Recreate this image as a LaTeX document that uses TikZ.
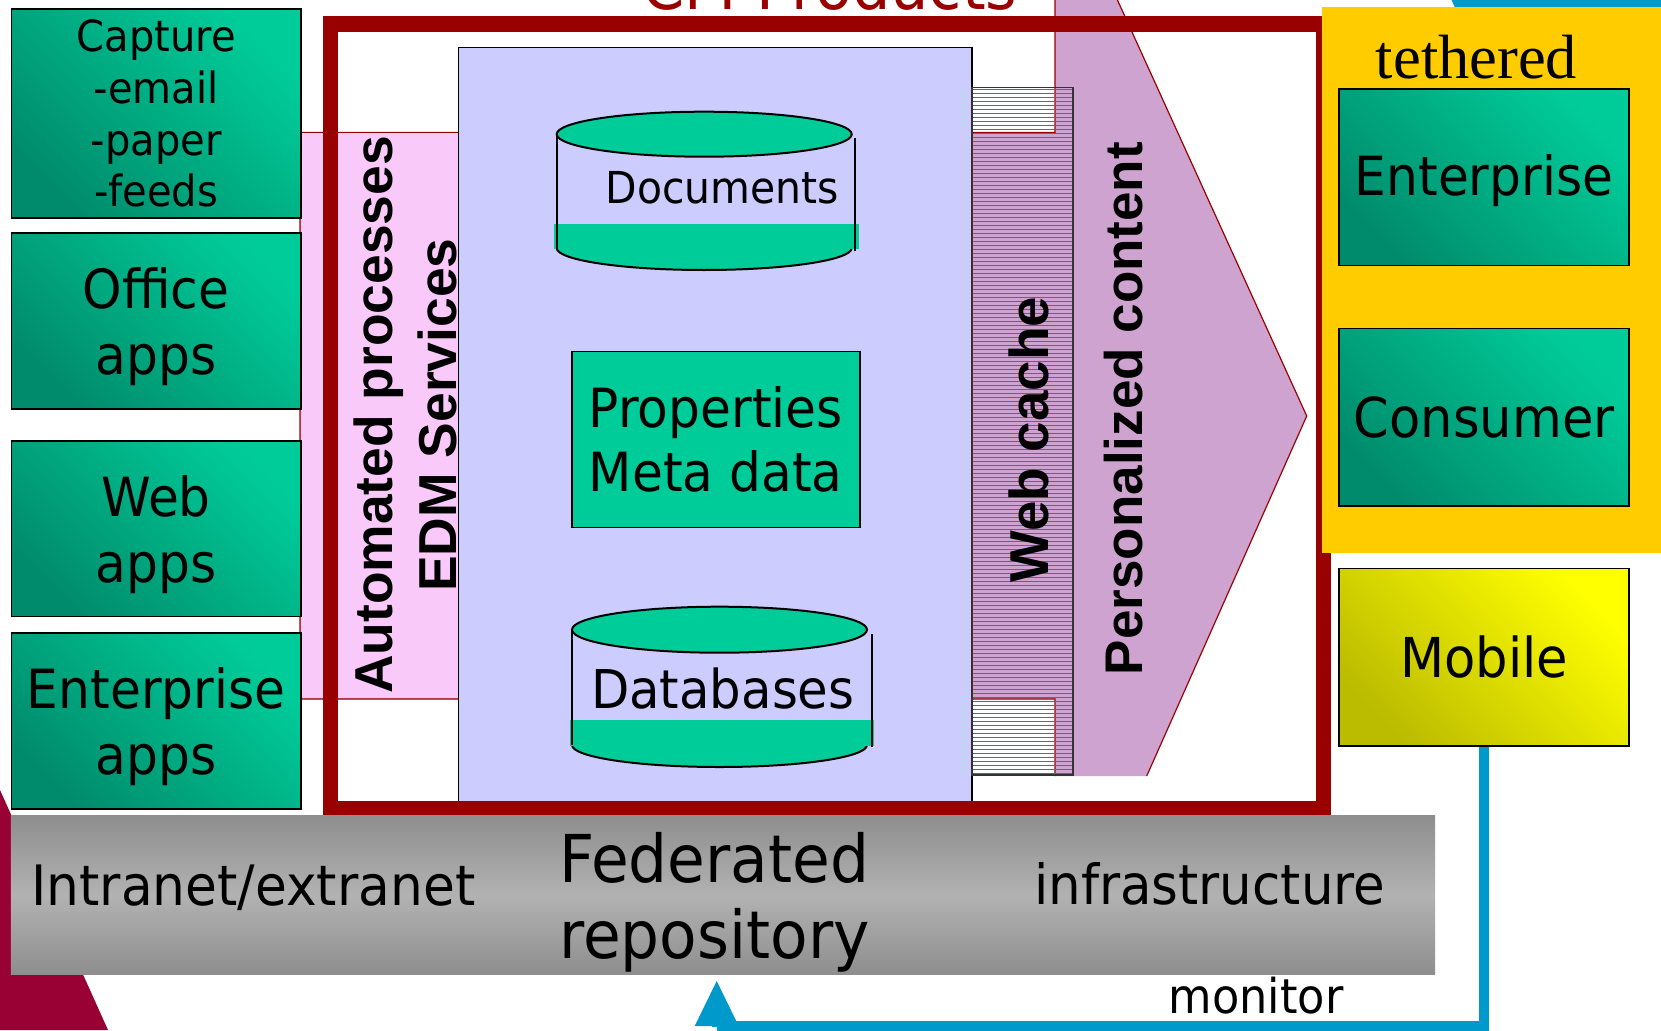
\documentclass[tikz,border=0pt]{standalone}
\usepackage{fontspec}
\setmainfont{DejaVu Sans}[FakeStretch=0.93]
\newfontfamily\arialfont{Liberation Sans}
\newfontfamily\timesfont{Liberation Serif}
\usetikzlibrary{arrows.meta}
\definecolor{tealhi}{HTML}{00CC99}
\definecolor{teallo}{HTML}{008C6C}
\definecolor{tealflat}{HTML}{00CC99}
\definecolor{framered}{HTML}{990000}
\definecolor{lav}{HTML}{CCCCFF}
\definecolor{pinkband}{HTML}{F9C9F9}
\definecolor{purp}{HTML}{CFA3CF}
\definecolor{goldbox}{HTML}{FFCC00}
\definecolor{cyanblue}{HTML}{0099CC}
\definecolor{crimson}{HTML}{990033}
\definecolor{stripeblue}{HTML}{3366FF}
\definecolor{yelhi}{HTML}{FFFF00}
\definecolor{yello}{HTML}{BBBB00}
\definecolor{grayend}{HTML}{8E8E8E}
\definecolor{graymid}{HTML}{B2B2B2}
\newcommand{\upstrut}{\rule{0pt}{53pt}}
\begin{document}
\begin{tikzpicture}[x=1pt,y=-1pt,
  tealbox/.style={draw=black, line width=1.6, top color=tealhi, bottom color=teallo, shading angle=-45,
    inner sep=0, align=center, anchor=north west, font=\fontsize{54}{66}\selectfont},
  plaintext/.style={inner sep=0},
  boldrot/.style={rotate=90, inner sep=0, align=center},
  cylline/.style={draw=black, line width=2},
]
\fill[white] (0,0) rectangle (1661,1030);
\useasboundingbox (0,0) rectangle (1661,1030);

% background shapes
\fill[crimson] (0,790) -- (108,1030) -- (0,1030) -- cycle;
\fill[cyanblue] (1451.5,0) -- (1661,0) -- (1661,12) -- (1457,12) -- cycle;

% big arrow (pink band + personalized content head)
\fill[purp] (300,132.4) -- (1055,132.4) -- (1055,0) -- (1117.4,0) -- (1306.7,416) -- (1146.7,776) -- (1055,776) -- (1055,699) -- (300,699) -- cycle;
\draw[framered, line width=1.2] (1055,0) -- (1055,132.4) -- (300,132.4) -- (300,699) -- (1055,699) -- (1055,776)
  (1117.4,0) -- (1306.7,416) -- (1146.7,776);
\fill[pinkband] (300.7,133) rectangle (458,698.4);

% lavender repository box
\node[draw=black, line width=1.2, fill=lav, minimum width=513.8, minimum height=754.4, anchor=north west, inner sep=0] (lavbox) at (457.6,46.6) {};

% Documents cylinder
\filldraw[fill=tealflat, cylline] (704.2,248) ellipse [x radius=147.5, y radius=22];
\fill[tealflat] (554,224) rectangle (859,249);
\draw[cylline] (556.7,134.2) -- (556.7,248.5);
\draw[cylline] (855,138) -- (855,250.7);
\filldraw[fill=tealflat, cylline] (704.2,134.2) ellipse [x radius=147.5, y radius=22.5];
\node[plaintext, anchor=base, font=\fontsize{44}{50}\selectfont] (docs) at (722.5,203) {Documents};

% Properties box
\node[draw=black, line width=1.6, fill=tealflat, minimum width=288, minimum height=176, anchor=north west, inner sep=0, align=center, font=\fontsize{54}{64}\selectfont] (props) at (571,350.6) {Properties\\Meta data};

% Databases cylinder
\filldraw[fill=tealflat, cylline] (719.5,745) ellipse [x radius=147.5, y radius=22];
\fill[tealflat] (570,720) rectangle (874,745.5);
\draw[cylline] (572,629.7) -- (572,745);
\draw[cylline] (871.7,634) -- (871.7,746.7);
\filldraw[fill=tealflat, cylline] (719.5,629.7) ellipse [x radius=147.5, y radius=23];
\node[plaintext, anchor=base, font=\fontsize{53.5}{60}\selectfont] (dbs) at (722.8,708) {Databases};

% Web cache stripes
\begin{scope}
\clip (971.4,87.3) rectangle (1072.3,774.3);
\foreach \yy in {89.5,93.5,...,774} \draw[stripeblue, line width=1.3] (971,\yy) -- (1073,\yy);
\end{scope}
\node[draw=black!80, line width=1.2, minimum width=100.9, minimum height=687, anchor=north west, inner sep=0] (webcache) at (971.4,87.3) {};

% CM products frame
\node[draw=framered, line width=15.5, minimum width=992.9, minimum height=784.3, inner sep=0] (frame) at (826.95,416.15) {};

% federated bar
\node[top color=grayend, bottom color=grayend, middle color=graymid, minimum width=1424.4, minimum height=159, anchor=north west, inner sep=0] (fedbar) at (10.6,815.5) {};
\node[plaintext, anchor=base west, font=\fontsize{55.7}{66}\selectfont] (intra) at (31.2,905) {Intranet/extranet};
\node[plaintext, anchor=base west, font=\fontsize{55.3}{66}\selectfont] (infra) at (1034,904) {infrastructure};
\node[plaintext, anchor=west, align=left, font=\fontsize{66}{76}\selectfont] (fed) at (559,902) {Federated\\repository};

% left source boxes
\node[tealbox, minimum width=289.4, minimum height=208.5, font=\fontsize{43}{51.6}\selectfont] (capture) at (10.6,8.5) {Capture\\-email\\-paper\\-feeds};
\node[tealbox, minimum width=289.4, minimum height=176] (office) at (10.6,232) {\upstrut Office\\apps};
\node[tealbox, minimum width=289.4, minimum height=175.5] (webapps) at (10.6,440) {\upstrut Web\\apps};
\node[tealbox, minimum width=289.4, minimum height=176] (entapps) at (10.6,632.3) {\upstrut Enterprise\\apps};

% tethered group
\node[fill=goldbox, minimum width=339.3, minimum height=545.8, anchor=north west, inner sep=0] (tethbox) at (1321.7,6.7) {};
\node[plaintext, anchor=base, font=\timesfont\fontsize{62.5}{70}\selectfont] (teth) at (1476.5,78.5) {tethered};
\node[tealbox, minimum width=289.7, minimum height=176.2, font=\fontsize{54}{66}\selectfont] (entr) at (1338.3,88.3) {\rule{0pt}{47pt}Enterprise};
\node[tealbox, minimum width=290, minimum height=177.3, font=\fontsize{55}{66}\selectfont] (cons) at (1338.3,327.7) {Consumer};
\node[draw=black, line width=1.6, top color=yelhi, bottom color=yello, shading angle=-45, minimum width=290, minimum height=177.3, anchor=north west, inner sep=0, font=\fontsize{55}{66}\selectfont] (mob) at (1338.3,567.7) {Mobile};

% rotated labels
\node[boldrot, font=\arialfont\bfseries\fontsize{53.4}{64}\selectfont] (autoproc) at (405,415) {Automated processes\\EDM Services};
\node[boldrot, font=\arialfont\bfseries\fontsize{54.8}{64}\selectfont] (webtxt) at (1029,439.6) {Web cache};
\node[boldrot, font=\arialfont\bfseries\fontsize{53}{64}\selectfont] (perstxt) at (1124,408.5) {Personalized content};

% title (cut off at top, as in the original)
\node[plaintext, anchor=base, text=framered, font=\fontsize{65}{70}\selectfont] (title) at (830,10) {CM Products};

% monitor connector
\coordinate (mcorner) at (716.7,1025.5);
\coordinate (mtip) at (716.7,981);
\draw[cyanblue, line width=10, -{Triangle[length=45pt, width=44pt, line width=0pt]}] (mob.south) |- (mcorner) -- (mtip);
\node[plaintext, anchor=base west, font=\fontsize{48}{56}\selectfont] (monitorlbl) at (1168.6,1013) {monitor};
\end{tikzpicture}
\end{document}
